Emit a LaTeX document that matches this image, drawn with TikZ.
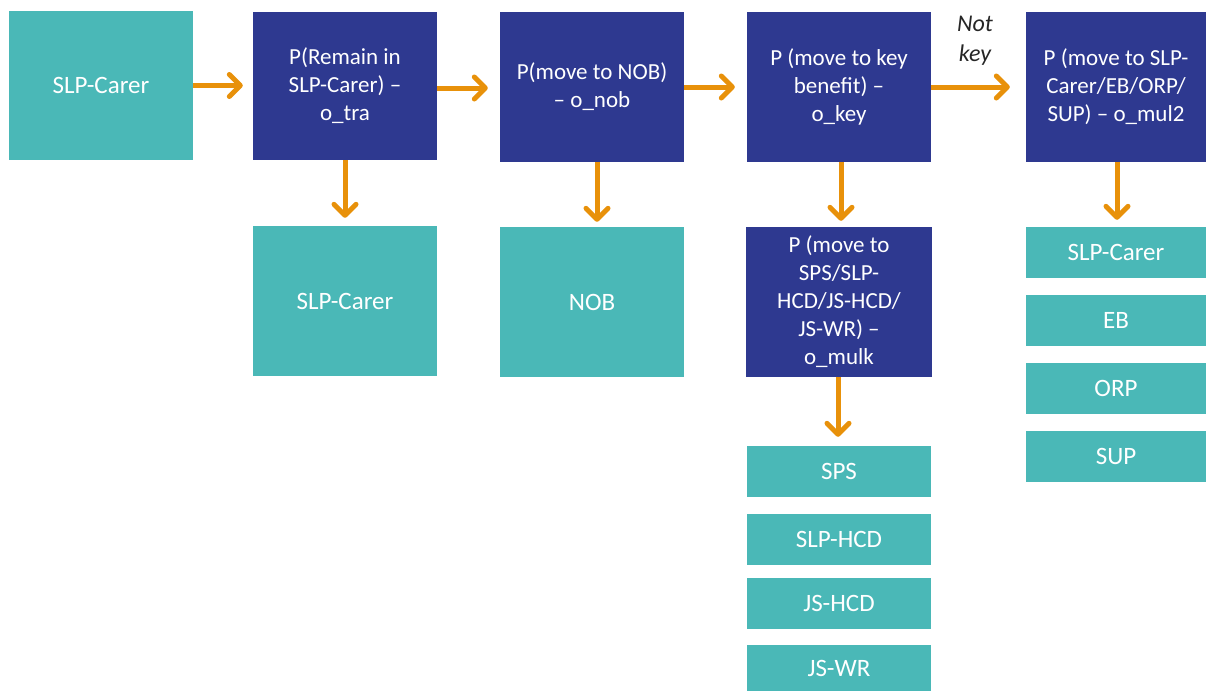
\documentclass[tikz,border=0pt]{standalone}
\usepackage{fontspec}
\setmainfont{Carlito}
\usetikzlibrary{arrows.meta}
\definecolor{tealbox}{RGB}{74,184,183}
\definecolor{navybox}{RGB}{46,57,144}
\definecolor{arroworange}{RGB}{232,145,10}
\definecolor{labelgray}{RGB}{38,38,38}
\tikzset{
  x=1pt,y=1pt,
  tbox/.style={fill=tealbox,text=white,inner sep=0pt,align=center,font=\fontsize{25}{28}\selectfont},
  nbox/.style={fill=navybox,text=white,inner sep=0pt,align=center,font=\fontsize{23}{28}\selectfont},
  arr/.style={draw=arroworange,line width=5pt,-{Straight Barb[length=11pt,width=22pt,line cap=round,line join=round]}},
}
\begin{document}
\begin{tikzpicture}
\useasboundingbox (0,0) rectangle (1206,-691);
% top row
\node[tbox,minimum width=184pt,minimum height=149pt] (A) at (101,-85.5) {SLP-Carer};
\node[nbox,minimum width=184pt,minimum height=148pt] (B) at (345,-86) {P(Remain in\\SLP-Carer) –\\o\_tra};
\node[nbox,minimum width=184pt,minimum height=150pt] (C) at (592,-87) {P(move to NOB)\\– o\_nob};
\node[nbox,minimum width=184pt,minimum height=150pt] (D) at (839,-87) {P (move to key\\benefit) –\\o\_key};
\node[nbox,minimum width=180pt,minimum height=150pt] (E) at (1116,-87) {P (move to SLP-\\Carer/EB/ORP/\\SUP) – o\_mul2};
% second row
\node[tbox,minimum width=184pt,minimum height=150pt] (B2) at (345,-301) {SLP-Carer};
\node[tbox,minimum width=184pt,minimum height=150pt] (C2) at (592,-302) {NOB};
\node[nbox,minimum width=186pt,minimum height=150pt] (D2) at (839,-302) {P (move to\\SPS/SLP-\\HCD/JS-HCD/\\JS-WR) –\\o\_mulk};
% D2 outcomes
\node[tbox,minimum width=184pt,minimum height=51pt] (SPS) at (839,-471.5) {SPS};
\node[tbox,minimum width=184pt,minimum height=51pt] (SLPHCD) at (839,-539.5) {SLP-HCD};
\node[tbox,minimum width=184pt,minimum height=51pt] (JSHCD) at (839,-603.5) {JS-HCD};
\node[tbox,minimum width=184pt,minimum height=46pt] (JSWR) at (839,-668) {JS-WR};
% E outcomes
\node[tbox,minimum width=180pt,minimum height=51pt] (E1) at (1116,-252.5) {SLP-Carer};
\node[tbox,minimum width=180pt,minimum height=51pt] (E2) at (1116,-320.5) {EB};
\node[tbox,minimum width=180pt,minimum height=51pt] (E3) at (1116,-388.5) {ORP};
\node[tbox,minimum width=180pt,minimum height=51pt] (E4) at (1116,-456.5) {SUP};
% label
\node[text=labelgray,align=center,font=\fontsize{24}{30}\itshape] (NK) at (975,-41) {Not\\key};
% arrows
\draw[arr,shorten >=10pt] (A.east) -- (A.east -| B.west);
\draw[arr,shorten >=12pt] ([yshift=-2pt]B.east) -- ([yshift=-2pt]B.east -| C.west);
\draw[arr,shorten >=12pt] (C.east) -- (C.east -| D.west);
\draw[arr,shorten >=16pt] (D.east) -- (D.east -| E.west);
\draw[arr,shorten >=8pt] (B.south) -- (B2.north);
\draw[arr,shorten >=5pt] ([xshift=5pt]C.south) -- ([xshift=5pt]C.south |- C2.north);
\draw[arr,shorten >=6pt] ([xshift=2pt]D.south) -- ([xshift=2pt]D.south |- D2.north);
\draw[arr,shorten >=9pt] ([xshift=-1pt]D2.south) -- ([xshift=-1pt]D2.south |- SPS.north);
\draw[arr,shorten >=7pt] ([xshift=1pt]E.south) -- ([xshift=1pt]E.south |- E1.north);
\end{tikzpicture}
\end{document}
